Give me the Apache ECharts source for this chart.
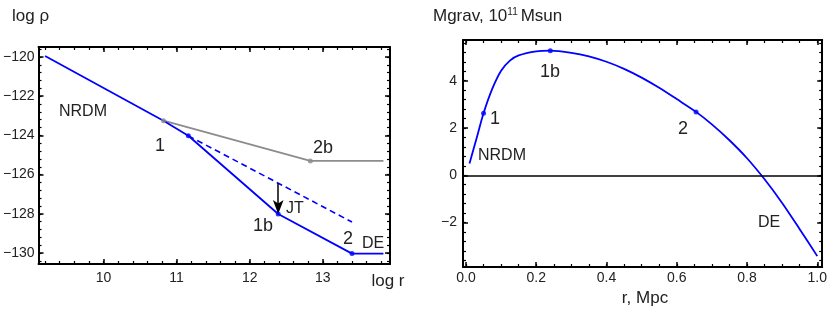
<!DOCTYPE html>
<html><head><meta charset="utf-8">
<script src="https://cdn.jsdelivr.net/npm/echarts@6/dist/echarts.min.js"></script>
<style>html,body{margin:0;padding:0;background:#fff}#c{width:830px;height:312px}</style>
</head><body><div id="c"></div>
<script>
// ---- Left panel: log rho vs log r ----
const nrdmX = [9.2, 10.82, 11.16, 12.39, 13.4, 13.83];
const nrdmY = [-119.95, -123.25, -124.02, -128.01, -130.03, -130.03];
const extX = [11.16, 13.4];
const extY = [-124.02, -128.42];
const grayX = [10.82, 12.83, 13.83];
const grayY = [-123.25, -125.3, -125.3];
const blueMarkX = [11.16, 12.39, 13.4];
const blueMarkY = [-124.02, -128.01, -130.03];
const grayMarkX = [10.82, 12.83];
const grayMarkY = [-123.25, -125.3];
const arrowX = [12.39, 12.39];
const arrowY = [-126.44, -128.01];
const leftXTicks = [10, 11, 12, 13];
const leftYTicks = [-130, -128, -126, -124, -122, -120];

// ---- Right panel: Mgrav vs r ----
const rMpc = [0.01, 0.03, 0.05, 0.075, 0.1, 0.125, 0.15, 0.2, 0.24, 0.3, 0.35, 0.4, 0.45, 0.5, 0.55, 0.6, 0.655, 0.7, 0.75, 0.8, 0.85, 0.9, 0.95, 1.0];
const mgrav = [0.50, 1.55, 2.62, 3.66, 4.42, 4.85, 5.07, 5.24, 5.27, 5.18, 5.03, 4.8, 4.5, 4.13, 3.7, 3.22, 2.68, 2.15, 1.48, 0.72, -0.17, -1.17, -2.28, -3.42];
const markR = [0.05, 0.24, 0.655];
const markM = [2.62, 5.27, 2.68];
const rightXTicks = [0, 0.2, 0.4, 0.6, 0.8, 1.0];
const rightYTicks = [-2, 0, 2, 4];

function range(a, b, s) { const o = []; for (let v = a; v <= b + 1e-9; v += s) o.push(+v.toFixed(4)); return o; }
const leftXMinor = range(9.2, 13.8, 0.2);
const leftYMinor = range(-130.4, -119.6, 0.4);
const rightXMinor = range(0, 1.0, 0.05);
const rightYMinor = range(-3.6, 5.6, 0.4);

const FONT = 'Liberation Sans';
const minus = v => (v < 0 ? '\u2212' + Math.abs(v) : '' + v);

function axesFor(dim, grid, min, max, major, minor, fmt, labelMargin) {
  const pos = dim === 'x' ? ['bottom', 'top'] : ['left', 'right'];
  const out = [];
  pos.forEach((p, i) => {
    out.push({
      type: 'value', gridIndex: grid, position: p, min, max,
      axisLine: { show: true, onZero: false, lineStyle: { color: '#000', width: 2 } },
      axisTick: { show: true, inside: true, length: 5, customValues: major, lineStyle: { color: '#000', width: 1.5 } },
      axisLabel: i === 0 ? { show: true, customValues: major, formatter: fmt, fontFamily: FONT, fontSize: 14, color: '#222', margin: labelMargin } : { show: false },
      splitLine: { show: false }
    });
    out.push({
      type: 'value', gridIndex: grid, position: p, min, max,
      axisLine: { show: false, onZero: false },
      axisTick: { show: true, inside: true, length: 3, customValues: minor, lineStyle: { color: '#000', width: 1.2 } },
      axisLabel: { show: false },
      splitLine: { show: false }
    });
  });
  return out;
}

const xAxes = axesFor('x', 0, 9.11, 13.92, leftXTicks, leftXMinor, v => '' + v, 7)
  .concat(axesFor('x', 1, -0.0085, 1.014, rightXTicks, rightXMinor, v => v.toFixed(1), 4));
const yAxes = axesFor('y', 0, -130.56, -119.49, leftYTicks, leftYMinor, minus, 4)
  .concat(axesFor('y', 1, -3.88, 5.72, rightYTicks, rightYMinor, minus, 6));

const zip = (a, b) => a.map((v, i) => [v, b[i]]);
const BLUE = '#0000ff', GRAY = '#8c8c8c';

const option = {
  animation: false,
  grid: [
    { left: 38, top: 47, width: 352, height: 217 },
    { left: 463, top: 40, width: 362, height: 227 }
  ],
  xAxis: xAxes,
  yAxis: yAxes,
  series: [
    { type: 'line', xAxisIndex: 0, yAxisIndex: 0, data: zip(grayX, grayY), showSymbol: false,
      lineStyle: { color: GRAY, width: 1.8 }, z: 2 },
    { type: 'line', xAxisIndex: 0, yAxisIndex: 0, data: zip(extX, extY), showSymbol: false,
      lineStyle: { color: BLUE, width: 1.6, type: [6, 4] }, z: 3 },
    { type: 'line', xAxisIndex: 0, yAxisIndex: 0, data: zip(nrdmX, nrdmY), showSymbol: false,
      lineStyle: { color: BLUE, width: 1.8 }, z: 4 },
    { type: 'scatter', xAxisIndex: 0, yAxisIndex: 0, data: zip(blueMarkX, blueMarkY), symbolSize: 5,
      itemStyle: { color: BLUE }, z: 5 },
    { type: 'scatter', xAxisIndex: 0, yAxisIndex: 0, data: zip(grayMarkX, grayMarkY), symbolSize: 5,
      itemStyle: { color: GRAY }, z: 5 },
    { type: 'line', xAxisIndex: 0, yAxisIndex: 0, data: [], showSymbol: false,
      markLine: { silent: true, symbol: ['none', 'arrow'], symbolSize: [8, 14],
        lineStyle: { color: '#000', width: 1.5, type: 'solid' }, label: { show: false },
        data: [[{ coord: [arrowX[0], arrowY[0]] }, { coord: [arrowX[1], arrowY[1]] }]] }, z: 6 },
    { type: 'line', xAxisIndex: 4, yAxisIndex: 4, data: zip(rMpc, mgrav), showSymbol: false, smooth: 0.3,
      lineStyle: { color: BLUE, width: 1.8 }, z: 4,
      markLine: { silent: true, symbol: 'none', label: { show: false },
        lineStyle: { color: '#000', width: 1.5, type: 'solid' }, data: [{ yAxis: 0 }] } },
    { type: 'scatter', xAxisIndex: 4, yAxisIndex: 4, data: zip(markR, markM), symbolSize: 5,
      itemStyle: { color: BLUE }, z: 5 }
  ],
  graphic: [
    { type: 'text', left: 12, top: 8, style: { text: 'log \u03c1', font: '17px ' + FONT, fill: '#222' } },
    { type: 'text', x: 83, y: 112, style: { text: 'NRDM', font: '16px ' + FONT, fill: '#222', align: 'center', verticalAlign: 'middle' } },
    { type: 'text', x: 160, y: 146, style: { text: '1', font: '18px ' + FONT, fill: '#222', align: 'center', verticalAlign: 'middle' } },
    { type: 'text', x: 323, y: 148, style: { text: '2b', font: '18px ' + FONT, fill: '#222', align: 'center', verticalAlign: 'middle' } },
    { type: 'text', x: 295, y: 209, style: { text: 'JT', font: '16px ' + FONT, fill: '#222', align: 'center', verticalAlign: 'middle' } },
    { type: 'text', x: 263, y: 226, style: { text: '1b', font: '18px ' + FONT, fill: '#222', align: 'center', verticalAlign: 'middle' } },
    { type: 'text', x: 348, y: 239, style: { text: '2', font: '18px ' + FONT, fill: '#222', align: 'center', verticalAlign: 'middle' } },
    { type: 'text', x: 373, y: 244, style: { text: 'DE', font: '16px ' + FONT, fill: '#222', align: 'center', verticalAlign: 'middle' } },
    { type: 'text', x: 388, y: 281, style: { text: 'log r', font: '17px ' + FONT, fill: '#222', align: 'center', verticalAlign: 'middle' } },
    { type: 'text', x: 433, y: 16, style: { text: 'Mgrav, 10{s|11}Msun', font: '17px ' + FONT, fill: '#222', verticalAlign: 'middle',
        rich: { s: { fontSize: 10, fontFamily: FONT, fill: '#222', verticalAlign: 'top', padding: [0, 3, 8, 0] } } } },
    { type: 'text', x: 550, y: 72, style: { text: '1b', font: '18px ' + FONT, fill: '#222', align: 'center', verticalAlign: 'middle' } },
    { type: 'text', x: 495, y: 119, style: { text: '1', font: '18px ' + FONT, fill: '#222', align: 'center', verticalAlign: 'middle' } },
    { type: 'text', x: 683, y: 129, style: { text: '2', font: '18px ' + FONT, fill: '#222', align: 'center', verticalAlign: 'middle' } },
    { type: 'text', x: 502, y: 156, style: { text: 'NRDM', font: '16px ' + FONT, fill: '#222', align: 'center', verticalAlign: 'middle' } },
    { type: 'text', x: 769, y: 223, style: { text: 'DE', font: '16px ' + FONT, fill: '#222', align: 'center', verticalAlign: 'middle' } },
    { type: 'text', x: 645, y: 298, style: { text: 'r, Mpc', font: '17px ' + FONT, fill: '#222', align: 'center', verticalAlign: 'middle' } }
  ]
};
const chart = echarts.init(document.getElementById('c'), null, { renderer: 'canvas' });
chart.setOption(option);
</script></body></html>
